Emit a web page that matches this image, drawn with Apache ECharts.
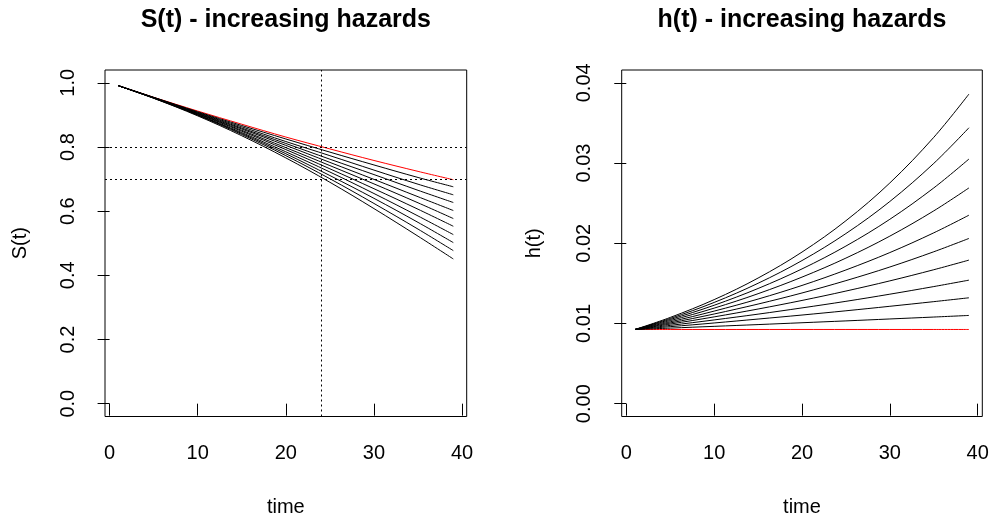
<!DOCTYPE html>
<html>
<head>
<meta charset="utf-8">
<script src="https://cdn.jsdelivr.net/npm/echarts@6/dist/echarts.min.js"></script>
<style>
  html, body { margin: 0; padding: 0; background: #fff; }
  #chart { width: 991px; height: 517px; }
</style>
</head>
<body>
<div id="chart"></div>
<script>
// time points
var times = [1, 5, 10, 15, 20, 25, 30, 35, 39];
var xTicks = [0, 10, 20, 30, 40];
var sTicks = [0, 0.2, 0.4, 0.6, 0.8, 1.0];
var hTicks = [0, 0.01, 0.02, 0.03, 0.04];

// S(t): constant hazard (red) and the increasing hazards (black)
var sRed = [0.991, 0.955, 0.912, 0.871, 0.831, 0.794, 0.758, 0.724, 0.698];
var s1 = [0.991, 0.955, 0.910, 0.867, 0.825, 0.784, 0.744, 0.705, 0.676];
var s2 = [0.991, 0.954, 0.908, 0.863, 0.817, 0.773, 0.728, 0.684, 0.651];
var s3 = [0.991, 0.954, 0.907, 0.859, 0.811, 0.762, 0.714, 0.665, 0.627];
var s4 = [0.991, 0.954, 0.905, 0.856, 0.805, 0.752, 0.699, 0.645, 0.602];
var s5 = [0.991, 0.953, 0.904, 0.852, 0.798, 0.742, 0.685, 0.626, 0.577];
var s6 = [0.991, 0.953, 0.903, 0.849, 0.792, 0.732, 0.670, 0.606, 0.553];
var s7 = [0.991, 0.953, 0.901, 0.845, 0.785, 0.722, 0.655, 0.585, 0.527];
var s8 = [0.991, 0.953, 0.900, 0.842, 0.779, 0.711, 0.640, 0.565, 0.502];
var s9 = [0.991, 0.952, 0.899, 0.839, 0.773, 0.701, 0.624, 0.544, 0.477];
var s10 = [0.991, 0.952, 0.897, 0.835, 0.766, 0.690, 0.608, 0.522, 0.451];

// h(t)
var hRed = [0.00925, 0.00925, 0.00925, 0.00925, 0.00925, 0.00925, 0.00925, 0.00925, 0.00925];
var h1 = [0.00925, 0.00942, 0.00964, 0.00986, 0.01009, 0.01032, 0.01056, 0.01080, 0.0110];
var h2 = [0.00925, 0.00960, 0.01006, 0.01055, 0.01105, 0.01158, 0.01214, 0.01272, 0.0132];
var h3 = [0.00925, 0.00976, 0.01044, 0.01116, 0.01194, 0.01276, 0.01365, 0.01460, 0.0154];
var h4 = [0.00925, 0.00992, 0.01082, 0.01180, 0.01287, 0.01404, 0.01531, 0.01670, 0.0179];
var h5 = [0.00925, 0.01006, 0.01118, 0.01242, 0.01380, 0.01534, 0.01704, 0.01894, 0.0206];
var h6 = [0.00925, 0.01020, 0.01154, 0.01304, 0.01474, 0.01667, 0.01884, 0.02130, 0.0235];
var h7 = [0.00925, 0.01035, 0.01191, 0.01371, 0.01578, 0.01815, 0.02089, 0.02404, 0.0269];
var h8 = [0.00925, 0.01049, 0.01227, 0.01436, 0.01680, 0.01965, 0.02299, 0.02690, 0.0305];
var h9 = [0.00925, 0.01062, 0.01262, 0.01501, 0.01784, 0.02121, 0.02521, 0.02996, 0.0344];
var h10 = [0.00925, 0.01075, 0.01297, 0.01566, 0.01890, 0.02281, 0.02752, 0.03321, 0.0386];

var sBlack = [s1, s2, s3, s4, s5, s6, s7, s8, s9, s10];
var hBlack = [h1, h2, h3, h4, h5, h6, h7, h8, h9, h10];

var FONT = "'Liberation Sans', Arial, sans-serif";

function pairs(vals) {
    var out = [];
    for (var i = 0; i < times.length; i++) {
        out.push([times[i], vals[i]]);
    }
    return out;
}

function curve(vals, idx, color) {
    return {
        type: 'line',
        xAxisIndex: idx,
        yAxisIndex: idx,
        data: pairs(vals),
        showSymbol: false,
        smooth: 0.35,
        silent: true,
        clip: false,
        lineStyle: {color: color, width: 1},
        z: color === '#ff0000' ? 2 : 3
    };
}

function xAxisFor(idx) {
    return {
        type: 'value',
        gridIndex: idx,
        min: -0.52,
        max: 40.52,
        name: 'time',
        nameLocation: 'middle',
        nameGap: 81,
        nameTextStyle: {fontFamily: FONT, fontSize: 20, color: '#000'},
        axisLine: {show: false},
        splitLine: {show: false},
        axisTick: {show: true, length: 12, customValues: xTicks, lineStyle: {color: '#000'}},
        axisLabel: {customValues: xTicks, margin: 27, fontFamily: FONT, fontSize: 20, color: '#000'}
    };
}

function yAxisFor(idx, name, ticks, lo, hi, digits, gap) {
    return {
        type: 'value',
        gridIndex: idx,
        min: lo,
        max: hi,
        name: name,
        nameLocation: 'middle',
        nameRotate: 90,
        nameGap: gap,
        nameTextStyle: {fontFamily: FONT, fontSize: 20, color: '#000'},
        axisLine: {show: false},
        splitLine: {show: false},
        axisTick: {show: true, length: 12, customValues: ticks, lineStyle: {color: '#000'}},
        axisLabel: {
            customValues: ticks,
            rotate: 90,
            margin: 27,
            fontFamily: FONT,
            fontSize: 20,
            color: '#000',
            formatter: function (v) { return v.toFixed(digits); }
        }
    };
}

var series = [];
var redS = curve(sRed, 0, '#ff0000');
// dotted guide lines on the survival panel
redS.markLine = {
    silent: true,
    symbol: 'none',
    label: {show: false},
    lineStyle: {color: '#000', width: 1, type: [2, 3]},
    data: [{yAxis: 0.8}, {yAxis: 0.7}, {xAxis: 24}]
};
series.push(redS);
for (var i = 0; i < sBlack.length; i++) {
    series.push(curve(sBlack[i], 0, '#000000'));
}
series.push(curve(hRed, 1, '#ff0000'));
for (var j = 0; j < hBlack.length; j++) {
    series.push(curve(hBlack[j], 1, '#000000'));
}

var chart = echarts.init(document.getElementById('chart'), null, {renderer: 'canvas'});
chart.setOption({
    animation: false,
    backgroundColor: '#fff',
    title: [
        {text: 'S(t) - increasing hazards', left: 285.8, top: 8, padding: 0, textAlign: 'center',
            textStyle: {fontFamily: FONT, fontSize: 25, fontWeight: 'bold', color: '#000', lineHeight: 25}},
        {text: 'h(t) - increasing hazards', left: 802, top: 8, padding: 0, textAlign: 'center',
            textStyle: {fontFamily: FONT, fontSize: 25, fontWeight: 'bold', color: '#000', lineHeight: 25}}
    ],
    grid: [
        {left: 105, right: 524.3, top: 70, bottom: 100.5, outerBoundsMode: 'none', containLabel: false,
            show: true, borderColor: '#000', borderWidth: 1, backgroundColor: 'transparent'},
        {left: 621.7, right: 8.7, top: 70, bottom: 100.5, outerBoundsMode: 'none', containLabel: false,
            show: true, borderColor: '#000', borderWidth: 1, backgroundColor: 'transparent'}
    ],
    xAxis: [xAxisFor(0), xAxisFor(1)],
    yAxis: [
        yAxisFor(0, 'S(t)', sTicks, -0.04, 1.04, 1, 75),
        yAxisFor(1, 'h(t)', hTicks, -0.0016, 0.0416, 2, 77)
    ],
    series: series
});
</script>
</body>
</html>
